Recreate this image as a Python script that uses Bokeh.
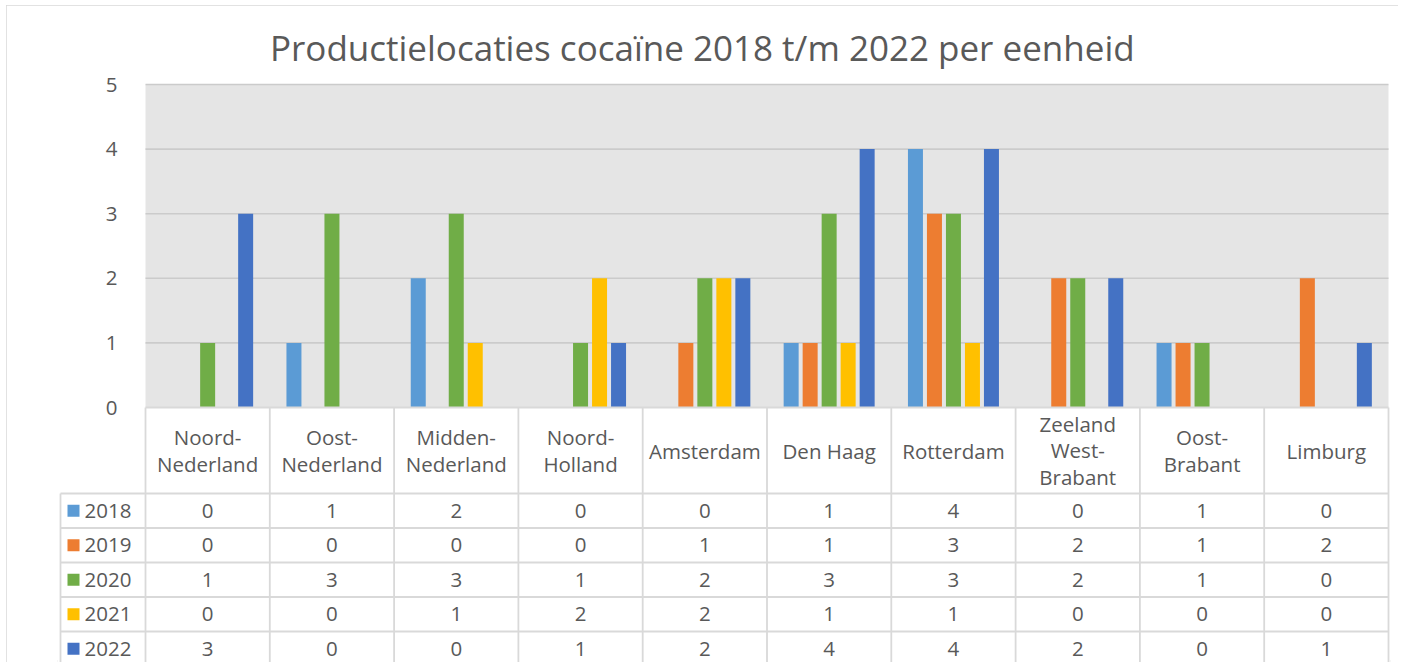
from bokeh.plotting import figure
from bokeh.models import Range1d, FixedTicker
from bokeh.core.properties import value
from bokeh.embed import file_html
from bokeh.resources import INLINE

# ---------------- data ----------------
categories = ["Noord-\nNederland", "Oost-\nNederland", "Midden-\nNederland", "Noord-\nHolland",
              "Amsterdam", "Den Haag", "Rotterdam", "Zeeland\nWest-\nBrabant", "Oost-\nBrabant", "Limburg"]
years = ["2018", "2019", "2020", "2021", "2022"]
v2018 = [0, 1, 2, 0, 0, 1, 4, 0, 1, 0]
v2019 = [0, 0, 0, 0, 1, 1, 3, 2, 1, 2]
v2020 = [1, 3, 3, 1, 2, 3, 3, 2, 1, 0]
v2021 = [0, 0, 1, 2, 2, 1, 1, 0, 0, 0]
v2022 = [3, 0, 0, 1, 2, 4, 4, 2, 0, 1]
y_ticks = [0, 1, 2, 3, 4, 5]
title_text = "Productielocaties cocaïne 2018 t/m 2022 per eenheid"

series = [v2018, v2019, v2020, v2021, v2022]
colors = ["#5B9BD5", "#ED7D31", "#70AD47", "#FFC000", "#4472C4"]

# ---------------- layout constants (page pixels) ----------------
ORX, ORY = 6, 5                 # figure top-left on the page
W, H = 1398 - ORX, 662 - ORY
PX_X = 124.3                    # px per category
PX_Y = 64.6                     # px per y unit
FRAME_L, FRAME_R, FRAME_T, FRAME_B = 57, 1390, 70, 662
MB_LEFT, MB_RIGHT = FRAME_L - ORX, ORX + W - FRAME_R
MB_TOP, MB_BOTTOM = FRAME_T - ORY, ORY + H - FRAME_B
PLOT_L, ZERO_Y = 145, 407
n = len(categories)
ymax = max(y_ticks)

x0 = -(PLOT_L - FRAME_L) / PX_X
x1 = (FRAME_R - PLOT_L) / PX_X
y1 = (ZERO_Y - FRAME_T) / PX_Y
y0 = -(FRAME_B - ZERO_Y) / PX_Y

header_h = 86 / PX_Y
row_h = 34.5 / PX_Y
leg_left = -(PLOT_L - 60) / PX_X
leg_sq_x = -(PLOT_L - 73) / PX_X
leg_txt_x = -(PLOT_L - 84) / PX_X
bar_step = 19 / PX_X
bar_w = 15 / PX_X

FONT = "Open Sans"
TXT = "#595959"
LINE = "#d9d9d9"
FS = "20.5px"

p = figure(width=W, height=H, x_range=Range1d(x0, x1), y_range=Range1d(y0, y1),
           output_backend="svg", toolbar_location=None,
           min_border_left=MB_LEFT, min_border_right=MB_RIGHT, min_border_top=MB_TOP,
           min_border_bottom=MB_BOTTOM, x_axis_location=None, y_axis_location="left")
p.styles = {"margin-left": f"{ORX}px", "margin-top": f"{ORY}px",
            "outline": "2px solid #d9d9d9", "outline-offset": "-2px"}
p.xgrid.visible = False
p.ygrid.visible = False
p.outline_line_color = None
p.background_fill_color = "white"
p.border_fill_color = "white"

# title (left aligned with an offset so that it is centred on the chart area)
TITLE_W = 865
p.title.text = title_text
p.title.align = "left"
p.title.offset = (ORX + W / 2) - TITLE_W / 2 - FRAME_L
p.title.standoff = 0
p.title.text_font = FONT
p.title.text_font_size = "35px"
p.title.text_font_style = "normal"
p.title.text_color = TXT

# y axis
ax = p.yaxis[0]
ax.ticker = FixedTicker(ticks=y_ticks)
ax.fixed_location = 0
ax.bounds = (0, ymax)
ax.axis_line_color = None
ax.major_tick_line_color = None
ax.minor_tick_line_color = None
ax.major_label_standoff = 22
ax.major_label_text_font = FONT
ax.major_label_text_font_size = FS
ax.major_label_text_color = TXT

# plot background and grid
p.quad(left=[0], right=[n], bottom=[0], top=[ymax], fill_color="#e5e5e5", line_color=None)
grid_ticks = [t for t in y_ticks if t > 0]
p.segment(x0=[0] * len(grid_ticks), x1=[n] * len(grid_ticks), y0=grid_ticks, y1=grid_ticks,
          line_color="#cbcbcb", line_width=1.6)

# bars
for j, (vals, c) in enumerate(zip(series, colors)):
    xs = [i + 0.5 + (j - (len(series) - 1) / 2) * bar_step for i in range(n)]
    p.vbar(x=xs, top=vals, bottom=0, width=bar_w, fill_color=c, line_color=None)

# table lines
bottom = y0 - 1
vx = list(range(n + 1))
p.segment(x0=vx, x1=vx, y0=[0] * len(vx), y1=[bottom] * len(vx), line_color=LINE, line_width=1.8)
p.segment(x0=[leg_left], x1=[leg_left], y0=[-header_h], y1=[bottom], line_color=LINE, line_width=1.8)
p.segment(x0=[0], x1=[n], y0=[0], y1=[0], line_color=LINE, line_width=1.8)
hy = [-header_h - k * row_h for k in range(len(series) + 1)]
p.segment(x0=[leg_left] * len(hy), x1=[n] * len(hy), y0=hy, y1=hy, line_color=LINE, line_width=1.8)

centers = [i + 0.5 for i in range(n)]
p.text(x=centers, y=[-header_h / 2] * n, text=categories, text_align="center",
       text_baseline="middle", text_font=value(FONT), text_font_size=FS,
       text_color=TXT, text_line_height=0.93)

row_y = [-header_h - (r + 0.5) * row_h for r in range(len(series))]
for r, vals in enumerate(series):
    p.text(x=centers, y=[row_y[r]] * n, text=[str(v) for v in vals], text_align="center",
           text_baseline="middle", text_font=value(FONT), text_font_size=FS, text_color=TXT)

# legend keys in table
p.scatter(x=[leg_sq_x] * len(years), y=row_y, marker="square", size=12,
          fill_color=colors, line_color=None)
p.text(x=[leg_txt_x] * len(years), y=row_y, text=years, text_align="left",
       text_baseline="middle", text_font=value(FONT), text_font_size=FS, text_color=TXT)

open("out.html", "w").write(file_html(p, INLINE))
